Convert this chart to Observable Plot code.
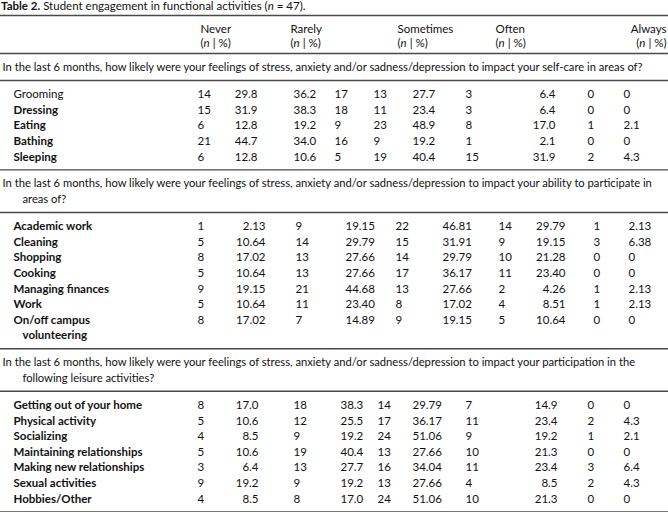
<!DOCTYPE html>
<html><head><meta charset="utf-8">
<script src="https://cdn.jsdelivr.net/npm/d3@7"></script>
<script src="https://cdn.jsdelivr.net/npm/@observablehq/plot@0.6"></script>
<style>
body{margin:0;background:#fff;}
#title{font-family:Lato,sans-serif;font-size:11.5px;height:14px;line-height:12px;padding-left:1px;color:#111;white-space:nowrap;overflow:hidden}
#chart svg{display:block}
</style></head><body>
<div id="title"><b>Table 2.</b> Student engagement in functional activities (<i>n</i> = 47).</div>
<div id="chart"></div>
<script>
// ---------- DATA ----------
const responseGroups = ["Never", "Rarely", "Sometimes", "Often", "Always"];
const subheadLabel = "(n | %)";

const question1 = ["In the last 6 months, how likely were your feelings of stress, anxiety and/or sadness/depression to impact your self-care in areas of?"];
const question2 = ["In the last 6 months, how likely were your feelings of stress, anxiety and/or sadness/depression to impact your ability to participate in", "areas of?"];
const question3 = ["In the last 6 months, how likely were your feelings of stress, anxiety and/or sadness/depression to impact your participation in the", "following leisure activities?"];

const selfCareLabels = ["Grooming", "Dressing", "Eating", "Bathing", "Sleeping"];
const selfCareValues = [
  ["14", "29.8", "36.2", "17", "13", "27.7", "3", "6.4", "0", "0"],
  ["15", "31.9", "38.3", "18", "11", "23.4", "3", "6.4", "0", "0"],
  ["6", "12.8", "19.2", "9", "23", "48.9", "8", "17.0", "1", "2.1"],
  ["21", "44.7", "34.0", "16", "9", "19.2", "1", "2.1", "0", "0"],
  ["6", "12.8", "10.6", "5", "19", "40.4", "15", "31.9", "2", "4.3"]
];

const participationLabels = ["Academic work", "Cleaning", "Shopping", "Cooking", "Managing finances", "Work", "On/off campus\nvolunteering"];
const participationValues = [
  ["1", "2.13", "9", "19.15", "22", "46.81", "14", "29.79", "1", "2.13"],
  ["5", "10.64", "14", "29.79", "15", "31.91", "9", "19.15", "3", "6.38"],
  ["8", "17.02", "13", "27.66", "14", "29.79", "10", "21.28", "0", "0"],
  ["5", "10.64", "13", "27.66", "17", "36.17", "11", "23.40", "0", "0"],
  ["9", "19.15", "21", "44.68", "13", "27.66", "2", "4.26", "1", "2.13"],
  ["5", "10.64", "11", "23.40", "8", "17.02", "4", "8.51", "1", "2.13"],
  ["8", "17.02", "7", "14.89", "9", "19.15", "5", "10.64", "0", "0"]
];

const leisureLabels = ["Getting out of your home", "Physical activity", "Socializing", "Maintaining relationships", "Making new relationships", "Sexual activities", "Hobbies/Other"];
const leisureValues = [
  ["8", "17.0", "18", "38.3", "14", "29.79", "7", "14.9", "0", "0"],
  ["5", "10.6", "12", "25.5", "17", "36.17", "11", "23.4", "2", "4.3"],
  ["4", "8.5", "9", "19.2", "24", "51.06", "9", "19.2", "1", "2.1"],
  ["5", "10.6", "19", "40.4", "13", "27.66", "10", "21.3", "0", "0"],
  ["3", "6.4", "13", "27.7", "16", "34.04", "11", "23.4", "3", "6.4"],
  ["9", "19.2", "9", "19.2", "13", "27.66", "4", "8.5", "2", "4.3"],
  ["4", "8.5", "8", "17.0", "24", "51.06", "10", "21.3", "0", "0"]
];

// ---------- LAYOUT / STYLE ----------
const W = 668, titleH = 14, H = 512 - titleH;
const FS = 11.5, QFS = 11.2;
const INK = "#111";
const regularWeightLabels = new Set(["Grooming"]);
const headerX = [200, 290, 397, 495, 666];
const headerEndAnchored = new Set([4]);
const sectionColX = [
  [197, 257, 293, 334, 373, 412, 465, 555, 587, 623],
  [197, 265, 295, 345, 395, 442, 498, 565, 593, 628],
  [197, 258, 293, 340, 377, 412, 465, 557, 587, 623]
];
const endAnchoredCols = new Set([1, 7]);
const pitch = 15.6, padTop = 14, padBottom = 13;

const sections = [
  {question: question1, labels: selfCareLabels, values: selfCareValues},
  {question: question2, labels: participationLabels, values: participationValues},
  {question: question3, labels: leisureLabels, values: leisureValues}
];

const ruleYs = [15];
const headerYs = [29, 43];
ruleYs.push(53);
let cursor = 53;
function block(n) {
  const ys = [];
  for (let i = 0; i < n; i++) ys.push(cursor + padTop + i * pitch);
  cursor = ys[ys.length - 1] + padBottom;
  ruleYs.push(cursor);
  return ys;
}

const headStart = [], headEnd = [];
responseGroups.forEach((g, i) => {
  const dest = headerEndAnchored.has(i) ? headEnd : headStart;
  dest.push({x: headerX[i], y: headerYs[0], text: g});
  dest.push({x: headerX[i], y: headerYs[1], text: subheadLabel});
});
const questionLines = [], boldLabels = [], plainLabels = [], startCells = [], endCells = [];

sections.forEach((s, si) => {
  const qy = block(s.question.length);
  s.question.forEach((line, li) => questionLines.push({x: li === 0 ? 2 : 22, y: qy[li], text: line}));
  const nLines = s.labels.reduce((a, l) => a + l.split("\n").length, 0);
  const ys = block(nLines);
  let k = 0;
  s.labels.forEach((lab, ri) => {
    const parts = lab.split("\n");
    const rowY = ys[k];
    parts.forEach((p, pi) => {
      const item = {x: pi === 0 ? 13 : 22, y: ys[k + pi], text: p};
      (regularWeightLabels.has(lab) ? plainLabels : boldLabels).push(item);
    });
    s.values[ri].forEach((v, ci) => {
      const item = {x: sectionColX[si][ci], y: rowY, text: v};
      (endAnchoredCols.has(ci) ? endCells : startCells).push(item);
    });
    k += parts.length;
  });
});

const shift = d => d.y - titleH;
const txt = (data, opts = {}) => Plot.text(data, {x: "x", y: shift, text: "text", textAnchor: "start", fontSize: FS, fill: INK, ...opts});

const chart = Plot.plot({
  width: W, height: H,
  margin: 0,
  x: {domain: [0, W], range: [0, W], axis: null},
  y: {domain: [0, H], range: [0, H], axis: null},
  style: {fontFamily: "Lato, sans-serif", fontSize: FS + "px", background: "#fff", overflow: "visible"},
  marks: [
    Plot.ruleY(ruleYs.map(v => v - titleH), {y: d => d, x1: 0, x2: W, stroke: "#4a4a4a", strokeWidth: 1.4}),
    txt(headStart),
    txt(headEnd, {textAnchor: "end"}),
    txt(questionLines, {fontSize: QFS}),
    txt(boldLabels, {fontWeight: "bold"}),
    txt(plainLabels),
    txt(startCells),
    txt(endCells, {textAnchor: "end"})
  ]
});
document.getElementById("chart").append(chart);

// italic "n" inside the sub-header
d3.select(chart).selectAll("text").filter(function() { return this.textContent === subheadLabel; }).each(function() {
  const t = d3.select(this);
  t.text(null);
  t.append("tspan").text("(");
  t.append("tspan").attr("font-style", "italic").text("n");
  t.append("tspan").text(" | %)");
});

// safety: keep long question lines inside the table width
d3.select(chart).selectAll("text").each(function() {
  const bb = this.getBBox();
  const maxRight = W - 3;
  if (bb.x + bb.width > maxRight && this.getAttribute("text-anchor") !== "end") {
    this.setAttribute("textLength", maxRight - bb.x);
    this.setAttribute("lengthAdjust", "spacingAndGlyphs");
  }
});
</script>
</body></html>
